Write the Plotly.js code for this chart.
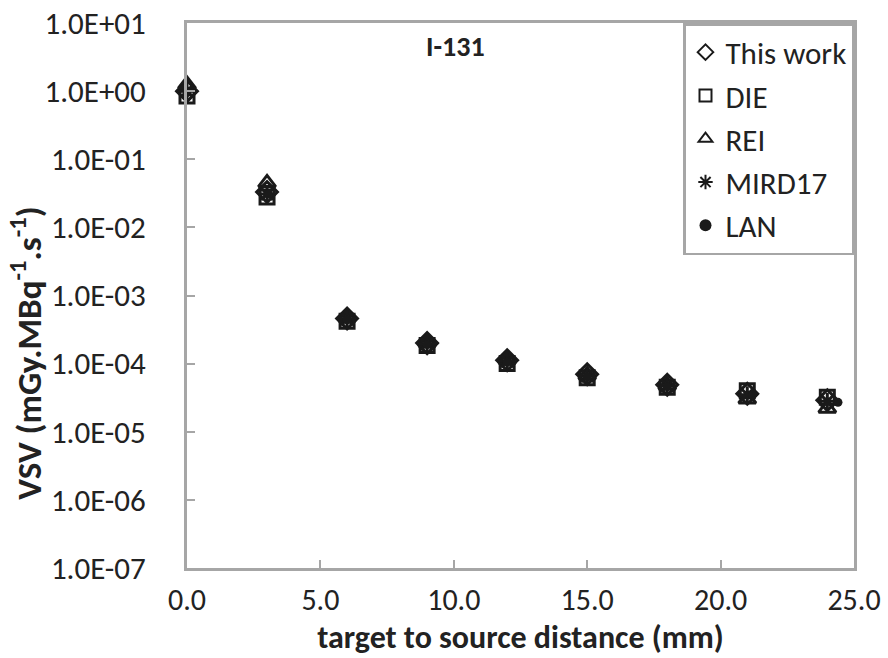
<!DOCTYPE html>
<html><head><meta charset="utf-8">
<script src="https://cdn.plot.ly/plotly-3.0.1.min.js"></script>
<style>html,body{margin:0;padding:0;background:#fff}</style>
</head><body><div id="chart" style="width:888px;height:658px"></div>
<script>
var xDist = [0, 3, 6, 9, 12, 15, 18, 21, 24];
var thisWork = [1.0, 0.033, 4.6e-4, 2.0e-4, 1.12e-4, 7.0e-5, 4.9e-5, 3.6e-5, 2.9e-5];
var die = [0.85, 0.028, 4.2e-4, 1.85e-4, 1.0e-4, 6.2e-5, 4.5e-5, 4.0e-5, 3.2e-5];
var rei = [1.25, 0.045, 4.8e-4, 2.05e-4, 1.15e-4, 6.8e-5, 4.8e-5, 3.0e-5, 2.2e-5];
var mird17 = [1.0, 0.031, 4.5e-4, 1.95e-4, 1.08e-4, 6.6e-5, 4.7e-5, 3.5e-5, 2.8e-5];
var lanX = [0, 3.05, 6, 9, 12, 15, 18, 21.2, 24.4];
var lan = [0.95, 0.031, 4.4e-4, 1.9e-4, 1.05e-4, 6.4e-5, 4.6e-5, 3.5e-5, 2.7e-5];
var yTickVals = [1e1, 1e0, 1e-1, 1e-2, 1e-3, 1e-4, 1e-5, 1e-6, 1e-7];
var yTickText = ['1.0E+01','1.0E+00','1.0E-01','1.0E-02','1.0E-03','1.0E-04','1.0E-05','1.0E-06','1.0E-07'];
var xTickVals = [0, 5, 10, 15, 20, 25];
var xTickText = ['0.0','5.0','10.0','15.0','20.0','25.0'];

var FONT = "Carlito, 'Liberation Sans Narrow', 'Open Sans', sans-serif";
var ink = '#1a1a1a';
function tr(name, x, y, symbol, size, lw) {
  return {type:'scatter', mode:'markers', name:name, x:x, y:y, cliponaxis:false,
    marker:{symbol:symbol, size:size, color:ink, line:{color:ink, width:lw}}};
}
var data = [
  tr('This work', xDist, thisWork, 'diamond-open', 16, 3),
  tr('DIE', xDist, die, 'square-open', 14, 3),
  tr('REI', xDist, rei, 'triangle-up-open', 15, 3),
  tr('MIRD17', xDist, mird17, 'asterisk-open', 14, 3),
  tr('LAN', lanX, lan, 'circle', 9, 0)
];
var axisCol = '#a6a6a6';
var layout = {
  width:888, height:658,
  margin:{l:187, r:34, t:23, b:90},
  paper_bgcolor:'#fff', plot_bgcolor:'#fff',
  font:{family:FONT, size:31, color:'#222'},
  showlegend:true,
  legend:{x:1, xanchor:'right', y:1, yanchor:'top', bgcolor:'#fff',
    bordercolor:axisCol, borderwidth:2.5, font:{family:FONT, size:31, color:'#222'},
    tracegroupgap:0, itemsizing:'constant'},
  xaxis:{range:[0,25], tickvals:xTickVals, ticktext:xTickText, showgrid:false, zeroline:false,
    showline:true, linecolor:axisCol, linewidth:3, mirror:true,
    ticks:'inside', ticklen:8, tickwidth:2, tickcolor:axisCol, ticklabelstandoff:3,
    tickfont:{family:FONT, size:30, color:'#222'},
    title:{text:'<b>target to source distance (mm)</b>', font:{family:FONT, size:32, color:'#222'}, standoff:8}},
  yaxis:{type:'log', range:[-7,1], tickvals:yTickVals, ticktext:yTickText, showgrid:false, zeroline:false,
    showline:true, linecolor:axisCol, linewidth:3, mirror:true,
    ticks:'inside', ticklen:8, tickwidth:2, tickcolor:axisCol, ticklabelstandoff:32,
    tickfont:{family:FONT, size:31, color:'#222'}},
  annotations:[
    {text:'<b>I-131</b>', x:0.402, xref:'paper', y:0.956, yref:'paper', yanchor:'middle', showarrow:false,
      font:{family:FONT, size:28, color:'#222'}},
    {text:'<b>VSV (mGy.MBq<sup>-1</sup>.s<sup>-1</sup>)</b>', textangle:-90, x:-0.24, xref:'paper', xanchor:'center',
      y:0.395, yref:'paper', yanchor:'middle', showarrow:false, font:{family:FONT, size:35, color:'#222'}}
  ]
};
Plotly.newPlot('chart', data, layout, {displayModeBar:false});
</script></body></html>
